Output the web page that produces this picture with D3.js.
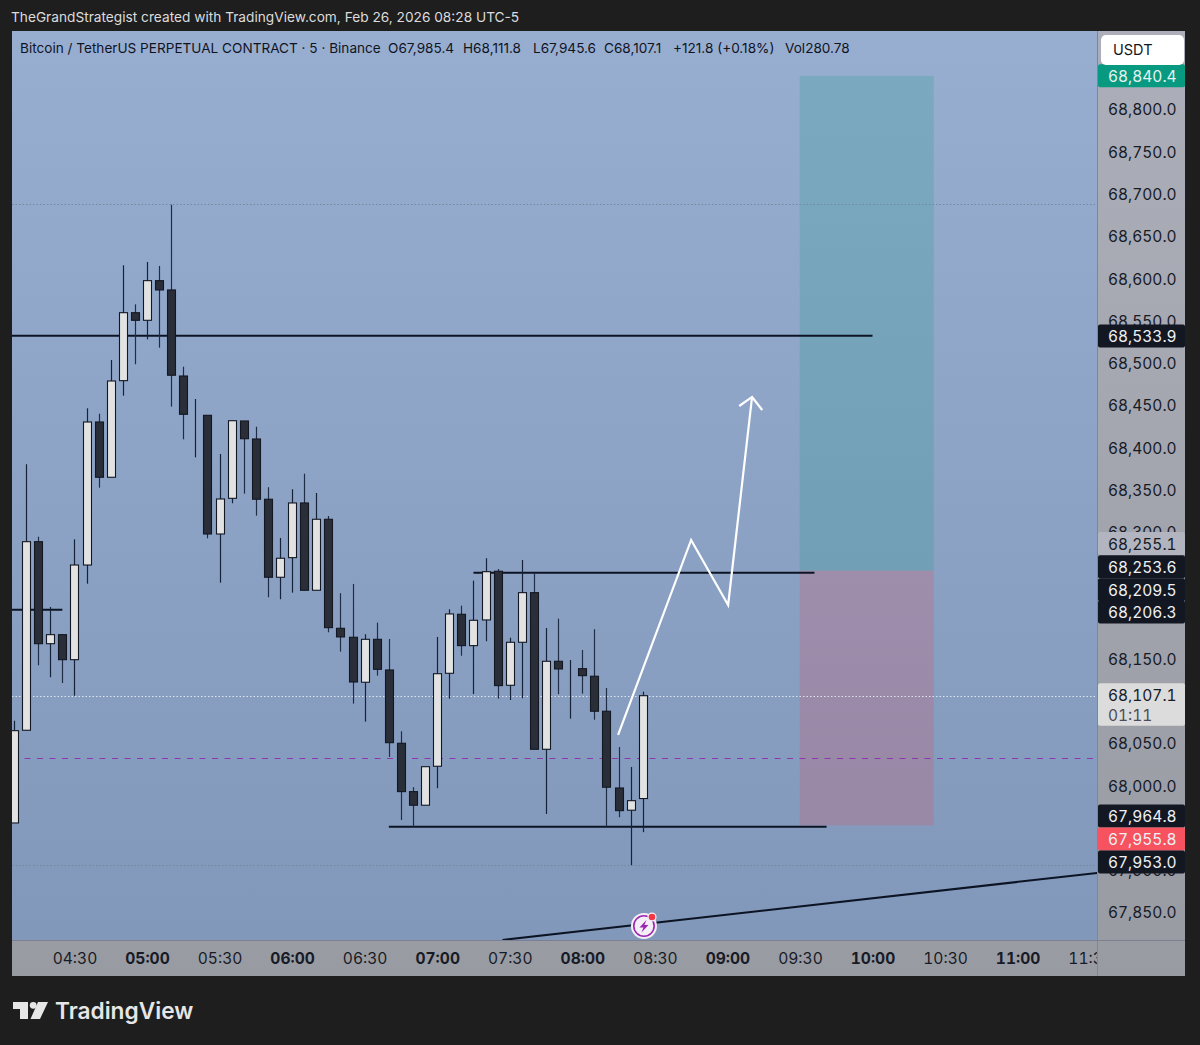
<!DOCTYPE html>
<html><head><meta charset="utf-8">
<style>html,body{margin:0;padding:0;background:#1e1e1e}svg{display:block}text{font-family:Inter,"Liberation Sans",sans-serif}.num text,text.num{font-feature-settings:"tnum" 1;font-variant-numeric:tabular-nums}</style>
<script src="https://cdn.jsdelivr.net/npm/d3@7/dist/d3.min.js"></script>
</head><body><svg id="c" width="1200" height="1045"></svg>
<script>
// ---- data (prices in USDT, one entry per 5-minute candle, first candle 04:05) ----
const opens=[67956.5,68066.2,68289.3,68168.6,68179.3,68149.7,68261.7,68430.9,68365.5,68479.8,68560.2,68551.2,68598.1,68587.1,68485.3,68440.4,68438.8,68298.4,68340.6,68432.1,68410.8,68339.5,68247.2,68270.4,68335.1,68231.8,68315.8,68186.8,68176.2,68123,68173.8,68137.5,68050.8,67993.6,67977.5,68023.6,68133.6,68203.4,68166.3,68196.7,68254.3,68119.4,68170.3,68229,68043.7,68147.8,68139.9,68139.1,68130.1,68088.7,67997.9,67971.6,67985.4];
const highs=[68077.5,68380.9,68295.2,68212.1,68179.8,68292.1,68447.1,68440.7,68504.2,68616.3,68570.1,68620.2,68615.5,68688,68496.3,68458.1,68438.8,68393,68432.4,68432.1,68425.3,68353.7,68293.7,68351.3,68369.7,68346.9,68319.7,68228.3,68239.3,68179.8,68193.5,68174.2,68065,67998.8,68023.1,68176.6,68209.3,68213.6,68243.2,68269.7,68257,68175.7,68267.6,68252.3,68187.2,68198.2,68149.3,68161.2,68185.7,68116.2,68046.4,68022.8,68111.8];
const lows=[67956.5,68066.2,68143.1,68128.9,68122.1,68107.1,68239.6,68353.2,68365.5,68462,68499.2,68528.7,68518.8,68449,68410.4,68389.1,68293.3,68240.8,68334.7,68346.1,68320.1,68223.5,68221.2,68229,68231.8,68231.8,68182.1,68159.2,68097.7,68076.4,68130.8,68034.6,67960.1,67952.1,67977.5,67997.6,68103.6,68154.4,68109.1,68171.5,68103.6,68102,68104,68043.7,67967.2,68108.8,68079.9,68109.5,68078.7,67952.1,67963.3,67906.5,67945.6];
const closes=[68065.7,68289.3,68168.6,68179.3,68149.7,68261.7,68430.9,68365.5,68479.4,68560.2,68551.2,68598.1,68587.1,68486.2,68440,68440.4,68298.4,68339.8,68432.4,68411.1,68339.5,68247.2,68269.7,68335.1,68231.8,68315.8,68187.6,68176.6,68123.3,68173.8,68138.3,68051.5,67993.6,67977.5,68023.1,68133.1,68203.8,68166.3,68196.3,68253.8,68119,68170.3,68229,68043.7,68147.8,68138.7,68139.9,68130.8,68088.7,67998.8,67971.1,67982.9,68107.1];
const firstCandle=new Date(Date.UTC(2026,1,26,4,5));
const priceTicks=[68800,68750,68700,68650,68600,68550,68500,68450,68400,68350,68300,68150,68100,68050,68000,67900,67850];
const timeTicks=["04:30","05:00","05:30","06:00","06:30","07:00","07:30","08:00","08:30","09:00","09:30","10:00","10:30","11:00","11:30"];
// horizontal drawings: price, from minute, to minute (minutes after 05:00)
const hLinePrices=[68532.9,68252.6,68208.8,67952.0];
const hLineStart=[-60,135,-60,100];
const hLineEnd=[300,276,-35,281];
const dottedPrices=[68688.6,68107.1,67906.5];
const dottedColors=["#75869f","#dfe5ee","#75869f"];
const avgPrice=68033;
const targetPrice=68840.4,entryPrice=68255.1,stopPrice=67953.6;
const positionMinutes=[269.9,325.3];
const trendMinutes=[147,393],trendPrices=[67818.1,67897.4];
const arrowMinutes=[194.8,225,240.3,250.2],arrowPrices=[68060.6,68291.3,68214.4,68460.5];
const headMinutes=[244.9,250.2,254.4],headPrices=[68449.8,68460.5,68445.1];
const legendParts=["Bitcoin / TetherUS PERPETUAL CONTRACT · 5 · Binance","O67,985.4","H68,111.8","L67,945.6","C68,107.1","+121.8 (+0.18%)","Vol280.78"];
const legendX=[20,388,463,533,604,673,785];
// axis price tags: text, background, text colour, vertical shift of the tag from its price
const tagText=["68,840.4","68,533.9","68,255.1","68,253.6","68,209.5","68,206.3","68,107.1","67,964.8","67,955.8","67,953.0"];
const tagPrice=[68840.4,68533.9,68255.1,68253.6,68209.5,68206.3,68107.1,67964.8,67955.8,67953.0];
const tagFill=["#089981","#131722","#b2b5bf","#131722","#131722","#131722","#dcdcdc","#131722","#f7525f","#131722"];
const tagInk=["#e4f3ef","#eef0f4","#171b26","#eef0f4","#eef0f4","#eef0f4","#171b26","#eef0f4","#eef0f4","#eef0f4"];
const tagShift=[0,1,-27,-5,-19.5,0.2,-1,0,15.4,36];

// ---- layout ----
const svg=d3.select("#c");
const P={l:12,t:31,r:1097,b:940,ar:1185,ab:976};
const x=d3.scaleUtc().domain([new Date(Date.UTC(2026,1,26,5,0)),new Date(Date.UTC(2026,1,26,6,0))]).range([147,292.1]);
const y=d3.scaleLinear().domain([68800,67850]).range([110,913]);
const atMin=m=>x(new Date(Date.UTC(2026,1,26,5,0)+m*60000));
const candleT=i=>new Date(firstCandle.getTime()+i*300000);

const defs=svg.append("defs");
const g1=defs.append("linearGradient").attr("id","bg").attr("x1",0).attr("x2",0).attr("y1",0).attr("y2",1);
g1.append("stop").attr("offset",0).attr("stop-color","#98aed1");
g1.append("stop").attr("offset",1).attr("stop-color","#8298ba");
const g2=defs.append("linearGradient").attr("id","ax").attr("x1",0).attr("x2",0).attr("y1",0).attr("y2",1);
g2.append("stop").attr("offset",0).attr("stop-color","#acafb9");
g2.append("stop").attr("offset",1).attr("stop-color","#999ba3");
defs.append("clipPath").attr("id","pane").append("rect").attr("x",P.l).attr("y",P.t).attr("width",P.r-P.l).attr("height",P.b-P.t);
defs.append("clipPath").attr("id","tm").append("rect").attr("x",P.l).attr("y",P.b).attr("width",P.r-P.l).attr("height",P.ab-P.b);

svg.append("rect").attr("width",1200).attr("height",1045).attr("fill","#1e1e1e");
svg.append("rect").attr("x",P.l).attr("y",P.t).attr("width",P.ar-P.l).attr("height",P.ab-P.t).attr("fill","url(#ax)");
svg.append("rect").attr("x",P.l).attr("y",P.t).attr("width",P.r-P.l).attr("height",P.b-P.t).attr("fill","url(#bg)");
svg.append("line").attr("x1",P.r+.5).attr("x2",P.r+.5).attr("y1",P.t).attr("y2",P.ab).attr("stroke","#83868f");
svg.append("line").attr("x1",P.l).attr("x2",P.ar).attr("y1",P.b+.5).attr("y2",P.b+.5).attr("stroke","#7b8094");

svg.append("text").attr("x",11).attr("y",22).attr("font-size",13.7).attr("fill","#dcdcdc")
  .text("TheGrandStrategist created with TradingView.com, Feb 26, 2026 08:28 UTC-5");

// pane contents
const pane=svg.append("g").attr("clip-path","url(#pane)");
const px0=atMin(positionMinutes[0]),px1=atMin(positionMinutes[1]);
pane.append("rect").attr("x",px0).attr("width",px1-px0).attr("y",y(targetPrice)).attr("height",y(entryPrice)-y(targetPrice)).attr("fill","rgba(8,153,129,.2)");
pane.append("rect").attr("x",px0).attr("width",px1-px0).attr("y",y(entryPrice)).attr("height",y(stopPrice)-y(entryPrice)).attr("fill","rgba(242,54,69,.18)");

pane.selectAll("line.dot").data(dottedPrices).join("line").attr("class","dot")
  .attr("x1",P.l).attr("x2",P.r).attr("y1",d=>Math.round(y(d))+.5).attr("y2",d=>Math.round(y(d))+.5)
  .attr("stroke",(d,i)=>dottedColors[i]).attr("stroke-width",1).attr("stroke-dasharray","1.5 2");
pane.append("line").attr("x1",P.l).attr("x2",P.r).attr("y1",Math.round(y(avgPrice))+.5).attr("y2",Math.round(y(avgPrice))+.5)
  .attr("stroke","#8e35b0").attr("stroke-width",1).attr("stroke-dasharray","6 6.5");

pane.selectAll("line.h").data(hLinePrices).join("line").attr("class","h")
  .attr("x1",(d,i)=>atMin(hLineStart[i])).attr("x2",(d,i)=>atMin(hLineEnd[i]))
  .attr("y1",d=>y(d)).attr("y2",d=>y(d)).attr("stroke","#0c1424").attr("stroke-width",2);
pane.append("line").attr("x1",atMin(trendMinutes[0])).attr("x2",atMin(trendMinutes[1]))
  .attr("y1",y(trendPrices[0])).attr("y2",y(trendPrices[1])).attr("stroke","#0c1424").attr("stroke-width",2);

// candles
const idx=d3.range(opens.length);
const bw=8;
const cg=pane.selectAll("g.cd").data(idx).join("g").attr("class","cd");
cg.append("line").attr("x1",i=>Math.round(x(candleT(i)))+.5).attr("x2",i=>Math.round(x(candleT(i)))+.5)
  .attr("y1",i=>y(highs[i])).attr("y2",i=>y(lows[i])).attr("stroke",i=>closes[i]>=opens[i]?"#14223a":"#1f2d46").attr("stroke-width",1.2);
cg.append("rect").attr("x",i=>Math.round(x(candleT(i)))+.5-bw/2).attr("width",bw)
  .attr("y",i=>y(Math.max(opens[i],closes[i])))
  .attr("height",i=>Math.abs(y(opens[i])-y(closes[i])))
  .attr("fill",i=>closes[i]>=opens[i]?"#e2e2e2":"#2a2e39")
  .attr("stroke","#131722").attr("stroke-width",1.1);

// hand-drawn arrow
const ln=d3.line().x(d=>atMin(d[0])).y(d=>y(d[1]));
pane.append("path").attr("d",ln(arrowMinutes.map((m,i)=>[m,arrowPrices[i]]))).attr("fill","none").attr("stroke","#fff").attr("stroke-width",2.2).attr("stroke-linejoin","miter");
pane.append("path").attr("d",ln(headMinutes.map((m,i)=>[m,headPrices[i]]))).attr("fill","none").attr("stroke","#fff").attr("stroke-width",2.2);

// legend
svg.selectAll("text.lg").data(legendParts).join("text").attr("class","lg")
  .attr("x",(d,i)=>legendX[i]).attr("y",53).attr("font-size",13.6).attr("fill","#10141f").text(d=>d);

// zap badge
const zx=atMin(205.5),zy=926;
svg.append("circle").attr("cx",zx).attr("cy",zy).attr("r",13).attr("fill","#f4eef7");
svg.append("circle").attr("cx",zx).attr("cy",zy).attr("r",10.2).attr("fill","none").attr("stroke","#9c27b0").attr("stroke-width",1.6);
svg.append("path").attr("transform",`translate(${zx},${zy})`).attr("d","M2.5-6L-4.5 1.5H-.5L-2.5 6.5L4.5-1H.5Z").attr("fill","#9c27b0");
svg.append("circle").attr("cx",zx+8).attr("cy",zy-9).attr("r",4.6).attr("fill","#f4eef7");
svg.append("circle").attr("cx",zx+8).attr("cy",zy-9).attr("r",3.3).attr("fill","#f23645");

// price axis
const yAxis=svg.append("g").attr("class","num").attr("transform",`translate(${P.r+11},0)`)
  .call(d3.axisRight(y).tickValues(priceTicks).tickSize(0).tickPadding(0).tickFormat(d3.format(",.1f")));
yAxis.select(".domain").remove();
yAxis.selectAll("text").attr("font-size",15.5).attr("fill","#171b26").attr("font-family",'Inter,"Liberation Sans",sans-serif');

// time axis
const parseT=s=>{const[h,m]=s.split(":").map(Number);return new Date(Date.UTC(2026,1,26,h,m));};
const xAxis=svg.append("g").attr("clip-path","url(#tm)").append("g").attr("class","num").attr("transform",`translate(0,${P.b+13})`)
  .call(d3.axisBottom(x).tickValues(timeTicks.map(parseT)).tickSize(0).tickPadding(0).tickFormat(d3.utcFormat("%H:%M")));
xAxis.select(".domain").remove();
xAxis.selectAll("text").attr("font-size",15.6).attr("fill","#171b26").attr("font-family",'Inter,"Liberation Sans",sans-serif')
  .attr("font-weight",d=>d.getUTCMinutes()===0?700:400);

// price tags
const tags=svg.append("g").attr("class","num");
const tagCy=i=>y(tagPrice[i])+tagShift[i];
tags.selectAll("rect").data(tagText).join("rect")
  .attr("x",P.r+1).attr("width",P.ar-P.r-1)
  .attr("y",(d,i)=>tagCy(i)-11.5).attr("height",23).attr("rx",2).attr("fill",(d,i)=>tagFill[i]);
tags.selectAll("text").data(tagText).join("text")
  .attr("x",P.r+11).attr("y",(d,i)=>tagCy(i)+6).attr("font-size",15.5).attr("fill",(d,i)=>tagInk[i]).text(d=>d);
const cur=tagText.indexOf("68,107.1");
tags.append("rect").attr("x",P.r+1).attr("width",P.ar-P.r-1).attr("y",tagCy(cur)+8).attr("height",23).attr("rx",2).attr("fill","#dcdcdc");
tags.append("text").attr("x",P.r+11).attr("y",tagCy(cur)+26).attr("font-size",15.5).attr("fill","#4a4d55").text("01:11");
// USDT button
svg.append("rect").attr("x",1101).attr("y",35).attr("width",83).attr("height",30).attr("rx",5).attr("fill","#fff");
svg.append("text").attr("x",1113).attr("y",55).attr("font-size",14.5).attr("fill","#131722").text("USDT");

// brand
svg.append("path").attr("d","M13 1002H28V1019H20V1009H13ZM38 1002H48L40 1019H30.5Z").attr("fill","#e6e6e6");
svg.append("circle").attr("cx",33.2).attr("cy",1005.3).attr("r",3.4).attr("fill","#e6e6e6");
svg.append("text").attr("x",55).attr("y",1019).attr("font-size",22.7).attr("font-weight",600).attr("fill","#e6e6e6").text("TradingView");
</script></body></html>
